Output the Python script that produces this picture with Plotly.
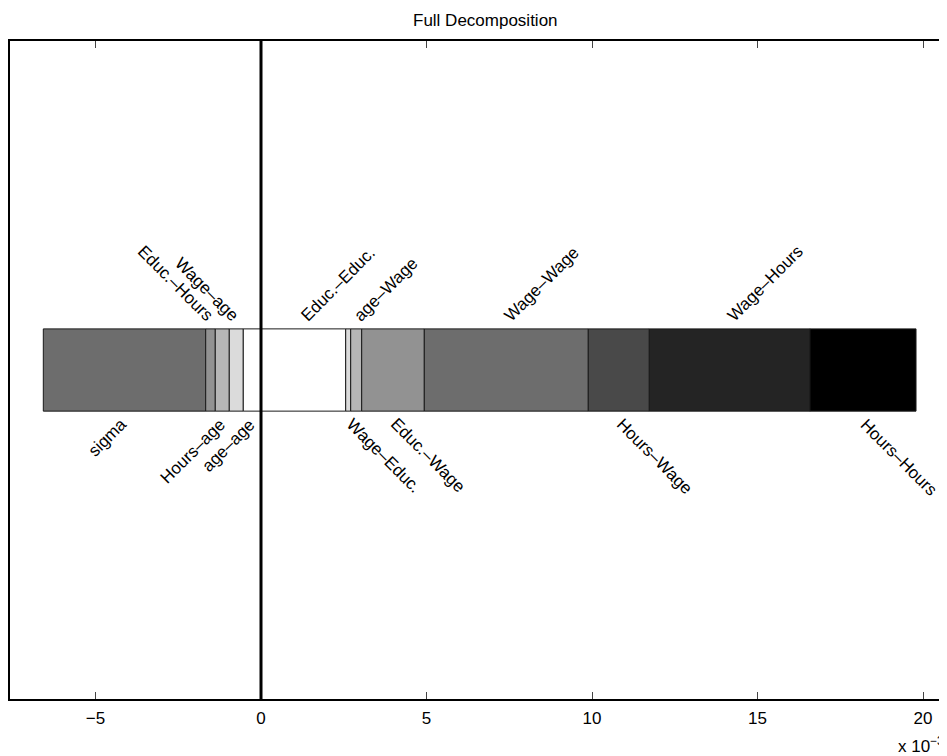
import plotly.graph_objects as go

# Data (units of 1e-3)
labels = ["sigma", "Educ.–Hours", "Hours–age", "Wage–age", "age–age",
          "Educ.–Educ.", "Wage–Educ.", "age–Wage", "Educ.–Wage",
          "Wage–Wage", "Hours–Wage", "Wage–Hours", "Hours–Hours"]
values = [-4.906, -0.290, -0.423, -0.423, -0.535,
          2.559, 0.151, 0.332, 1.892,
          4.954, 1.843, 4.855, 3.203]
tick_vals = [-5, 0, 5, 10, 15, 20]
tick_text = ["−5", "0", "5", "10", "15", "20"]

# Styles
gray_levels = ["#6d6d6d", "#929292", "#b6b6b6", "#dbdbdb", "#ffffff",
               "#ffffff", "#dbdbdb", "#b6b6b6", "#929292",
               "#6d6d6d", "#494949", "#242424", "#000000"]
FONT = "Liberation Sans, Arial, Helvetica, sans-serif"
FS = 17

# compute segment starts: negatives stacked leftwards from 0, positives rightwards
n = len(values)
bases = [0.0] * n
acc = 0.0
for i in reversed(range(n)):
    if values[i] < 0:
        bases[i] = acc
        acc += values[i]
acc = 0.0
for i in range(n):
    if values[i] >= 0:
        bases[i] = acc
        acc += values[i]

fig = go.Figure()
fig.add_trace(go.Bar(
    y=[0] * n, x=values, base=bases, orientation="h", width=1.0,
    marker=dict(color=gray_levels, line=dict(color="#1a1a1a", width=1)),
    hoverinfo="skip", showlegend=False,
))

annotations = []
for i in range(n):
    center = bases[i] + values[i] / 2.0
    top = (i % 2 == 1)
    neg = values[i] < 0
    if neg and top:
        ang, xa, ya, y, xs, ys = 45, "right", "bottom", 0.5, 9, 1
    elif neg and not top:
        ang, xa, ya, y, xs, ys = -45, "right", "top", -0.5, 9, -1
    elif (not neg) and top:
        ang, xa, ya, y, xs, ys = -45, "left", "bottom", 0.5, -9, 1
    else:
        ang, xa, ya, y, xs, ys = 45, "left", "top", -0.5, -9, -1
    annotations.append(dict(
        x=center, y=y, xref="x", yref="y", text=labels[i], showarrow=False,
        textangle=ang, xanchor=xa, yanchor=ya, xshift=xs, yshift=ys,
        font=dict(family=FONT, size=FS, color="black"),
    ))

annotations.append(dict(
    x=0.507, y=1, xref="paper", yref="paper", yshift=21,
    text="Full Decomposition", showarrow=False, xanchor="center", yanchor="middle",
    font=dict(family=FONT, size=FS, color="black"),
))
annotations.append(dict(
    x=1, y=-0.07, xref="paper", yref="paper", xshift=-1,
    text="x 10<sup>−3</sup>", showarrow=False, xanchor="right", yanchor="middle",
    font=dict(family=FONT, size=FS, color="black"),
))

# page body has an 8px margin; figure sized to fill the remaining window
fig.update_layout(
    width=939, height=748,
    margin=dict(l=2, r=0, t=33, b=57),
    paper_bgcolor="white", plot_bgcolor="white",
    barmode="overlay",
    font=dict(family=FONT, size=FS, color="black"),
    annotations=annotations,
    shapes=[dict(type="line", xref="x", yref="paper", x0=0, x1=0, y0=0, y1=1,
                 line=dict(color="black", width=3), layer="above")],
    xaxis=dict(range=[-7.583, 20.725], tickvals=tick_vals, ticktext=tick_text,
               ticks="inside", ticklen=7, tickcolor="#444", tickwidth=1,
               ticklabelstandoff=3,
               showline=True, linecolor="black", linewidth=1.5, mirror="ticks",
               showgrid=False, zeroline=False, fixedrange=True,
               tickfont=dict(family=FONT, size=FS, color="black")),
    yaxis=dict(range=[-4, 4], showticklabels=False, ticks="",
               showline=True, linecolor="black", linewidth=1.5, mirror=False,
               showgrid=False, zeroline=False, fixedrange=True),
)

fig.write_html("out.html")
